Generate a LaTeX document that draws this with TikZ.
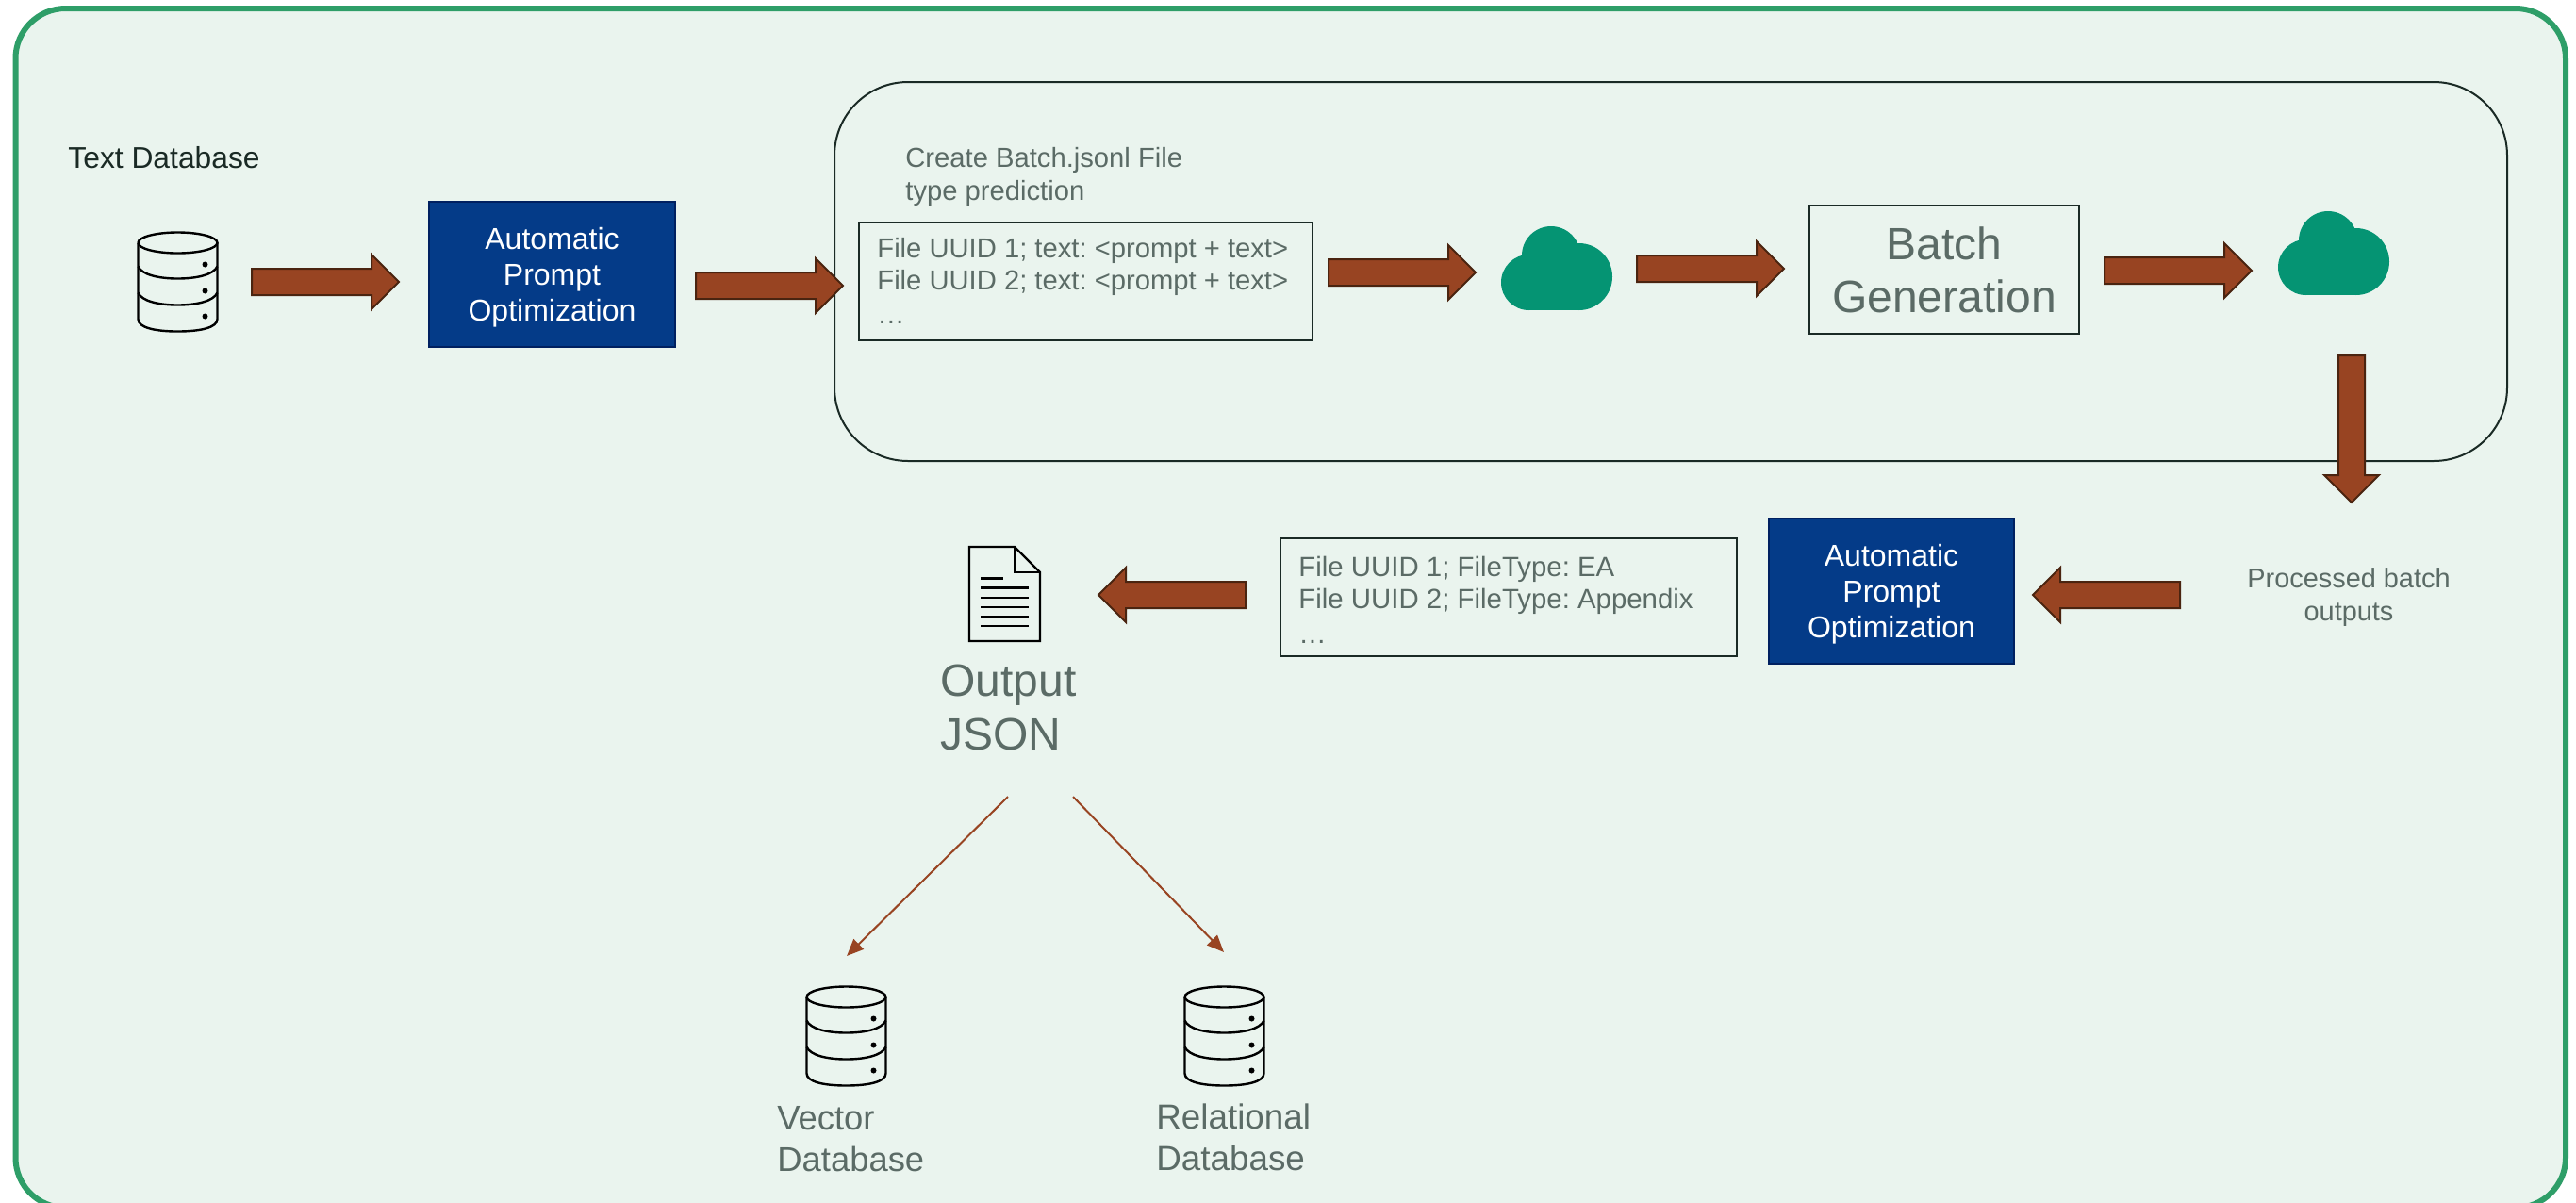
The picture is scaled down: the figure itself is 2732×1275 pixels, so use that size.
\documentclass[tikz,border=0pt]{standalone}
\usepackage{fontspec}
\setmainfont{Liberation Sans}
\usetikzlibrary{shapes.arrows,arrows.meta}
\definecolor{panelbg}{HTML}{EAF4EE}
\definecolor{panelline}{HTML}{2E9E68}
\definecolor{inkdark}{HTML}{1A2A25}
\definecolor{graytxt}{HTML}{5B6B66}
\definecolor{navyfill}{HTML}{043B88}
\definecolor{navyline}{HTML}{002060}
\definecolor{brownfill}{HTML}{984422}
\definecolor{brownline}{HTML}{4A2410}
\definecolor{cloudgreen}{HTML}{059473}
\tikzset{
  x=0.5pt,y=-0.5pt,
  every node/.append style={execute at begin node=\frenchspacing},
  lbl/.style={inner sep=0pt,align=left,text=graytxt,anchor=west},
  navybox/.style={draw=navyline,line width=1.25pt,fill=navyfill,text=white,align=center,inner sep=0pt,
    font=\fontsize{16}{19}\selectfont},
  plainbox/.style={draw=inkdark,line width=1pt,inner sep=0pt,text=graytxt},
  blockarrow/.style={single arrow,draw=brownline,fill=brownfill,line width=1pt,inner xsep=0pt,inner ysep=6.5pt,
    outer sep=0pt,minimum height=78pt,minimum width=28pt,single arrow head extend=7.5pt,
    single arrow tip angle=90,single arrow head indent=0pt,anchor=tail},
  thinarrow/.style={draw=brownfill,line width=1pt,-{Triangle[length=9pt,width=7.5pt]}},
  dbicon/.pic={
    \begin{scope}[draw=black,line width=1.2pt,fill=none]
      \draw (0,11) arc[x radius=21pt,y radius=5.5pt,start angle=180,end angle=-180];
      \draw (0,11) -- (0,92) .. controls (0,101) and (18,105) .. (42,105)
        .. controls (66,105) and (84,101) .. (84,92) -- (84,11);
      \draw (0,36) .. controls (4,45) and (22,49) .. (42,49) .. controls (62,49) and (80,45) .. (84,36);
      \draw (0,64) .. controls (4,73) and (22,77) .. (42,77) .. controls (62,77) and (80,73) .. (84,64);
      \fill (71,34) circle[radius=1.5pt] (71,62) circle[radius=1.5pt] (71,89) circle[radius=1.5pt];
    \end{scope}
  },
  cloudicon/.pic={
    \fill[cloudgreen] (29.5,59.5) circle[radius=14.75pt] (82.5,53.5) circle[radius=17.75pt] (53,31) circle[radius=15.5pt];
    \fill[cloudgreen] (29.5,89) rectangle (82.5,30);
  },
  docicon/.pic={
    \draw[black,line width=1.2pt,line join=miter,fill=none] (0,0) -- (48,0) -- (75,27) -- (75,100) -- (0,100) -- cycle;
    \draw[black,line width=1.2pt] (48,0) -- (48,27) -- (75,27);
    \draw[black,line width=1.1pt] (12,33.5) -- (36,33.5) (12,43.5) -- (63,43.5) (12,54) -- (63,54)
      (12,64) -- (63,64) (12,74) -- (63,74) (12,84) -- (63,84);
  }
}
\begin{document}
\begin{tikzpicture}
\useasboundingbox (0,0) rectangle (2732,1275);
\fill[white] (0,0) rectangle (2732,1275);
\draw[draw=panelline,fill=panelbg,line width=3pt,rounded corners=26.5pt] (16.5,9) rectangle (2721,1281);
\draw[draw=inkdark,line width=1pt,rounded corners=39pt] (885,87) rectangle (2659,489);

% top row
\node[lbl,text=inkdark,font=\fontsize{15.9}{18}\selectfont] (textdb) at (72,167) {Text Database};
\pic (dbA) at (146.5,246.5) {dbicon};
\node[blockarrow] (ar1) at (267,299) {};
\node[navybox,minimum width=130.5pt,minimum height=77pt] (autoA) at (585.5,291) {\rule{0pt}{14.6pt}Automatic\\Prompt\\Optimization};
\node[blockarrow] (ar2) at (738,303) {};
\node[lbl,font=\fontsize{14.6}{17.2}\selectfont] (create) at (960,187.5) {Create Batch.jsonl File\\type prediction};
\node[plainbox,minimum width=240.5pt,minimum height=62.5pt] (reqbox) at (1151.5,298) {};
\node[lbl,font=\fontsize{14.6}{18.3}\selectfont] (reqtxt) at (930,298) {File UUID 1; text: <prompt + text>\\[-1.3pt]File UUID 2; text: <prompt + text>\\…};
\node[blockarrow] (ar3) at (1409,289) {};
\pic (cloudA) at (1592,240) {cloudicon};
\node[blockarrow] (ar4) at (1736,285) {};
\node[plainbox,minimum width=143pt,minimum height=68pt,align=center,font=\fontsize{24}{28}\selectfont] (batch) at (2062,286) {Batch\\Generation};
\node[blockarrow] (ar5) at (2232,287) {};
\pic (cloudB) at (2416,224) {cloudicon};
\node[blockarrow,shape border rotate=270,inner xsep=6.5pt,inner ysep=0pt] (ar6) at (2494,377) {};

% second row
\node[lbl,anchor=center,align=center,font=\fontsize{14.45}{17.5}\selectfont] (proc) at (2491,633.5) {Processed batch\\outputs};
\node[blockarrow,shape border rotate=180] (ar7) at (2312,631) {};
\node[navybox,minimum width=130pt,minimum height=77pt] (autoB) at (2006,627) {\rule{0pt}{14.6pt}Automatic\\Prompt\\Optimization};
\node[plainbox,minimum width=242pt,minimum height=62.5pt] (resbox) at (1600,633.5) {};
\node[lbl,font=\fontsize{14.7}{18.4}\selectfont] (restxt) at (1377,636) {File UUID 1; FileType: EA\\[-1.3pt]File UUID 2; FileType: Appendix\\…};
\node[blockarrow,shape border rotate=180] (ar8) at (1321,631) {};
\pic (docA) at (1028,580) {docicon};
\node[lbl,font=\fontsize{24}{28.5}\selectfont] (out) at (997,750.5) {Output\\JSON};

% bottom
\coordinate (outL) at (1069,845);
\coordinate (outR) at (1138,845);
\coordinate (vecT) at (898,1014);
\coordinate (relT) at (1298,1010);
\draw[thinarrow] (outL) -- (vecT);
\draw[thinarrow] (outR) -- (relT);
\pic (dbB) at (855.5,1046.5) {dbicon};
\pic (dbC) at (1256.5,1046.5) {dbicon};
\node[lbl,font=\fontsize{18.2}{22.2}\selectfont] (vec) at (824,1208) {Vector\\Database};
\node[lbl,font=\fontsize{18.4}{22}\selectfont] (rel) at (1226,1206) {Relational\\Database};
\end{tikzpicture}
\end{document}
